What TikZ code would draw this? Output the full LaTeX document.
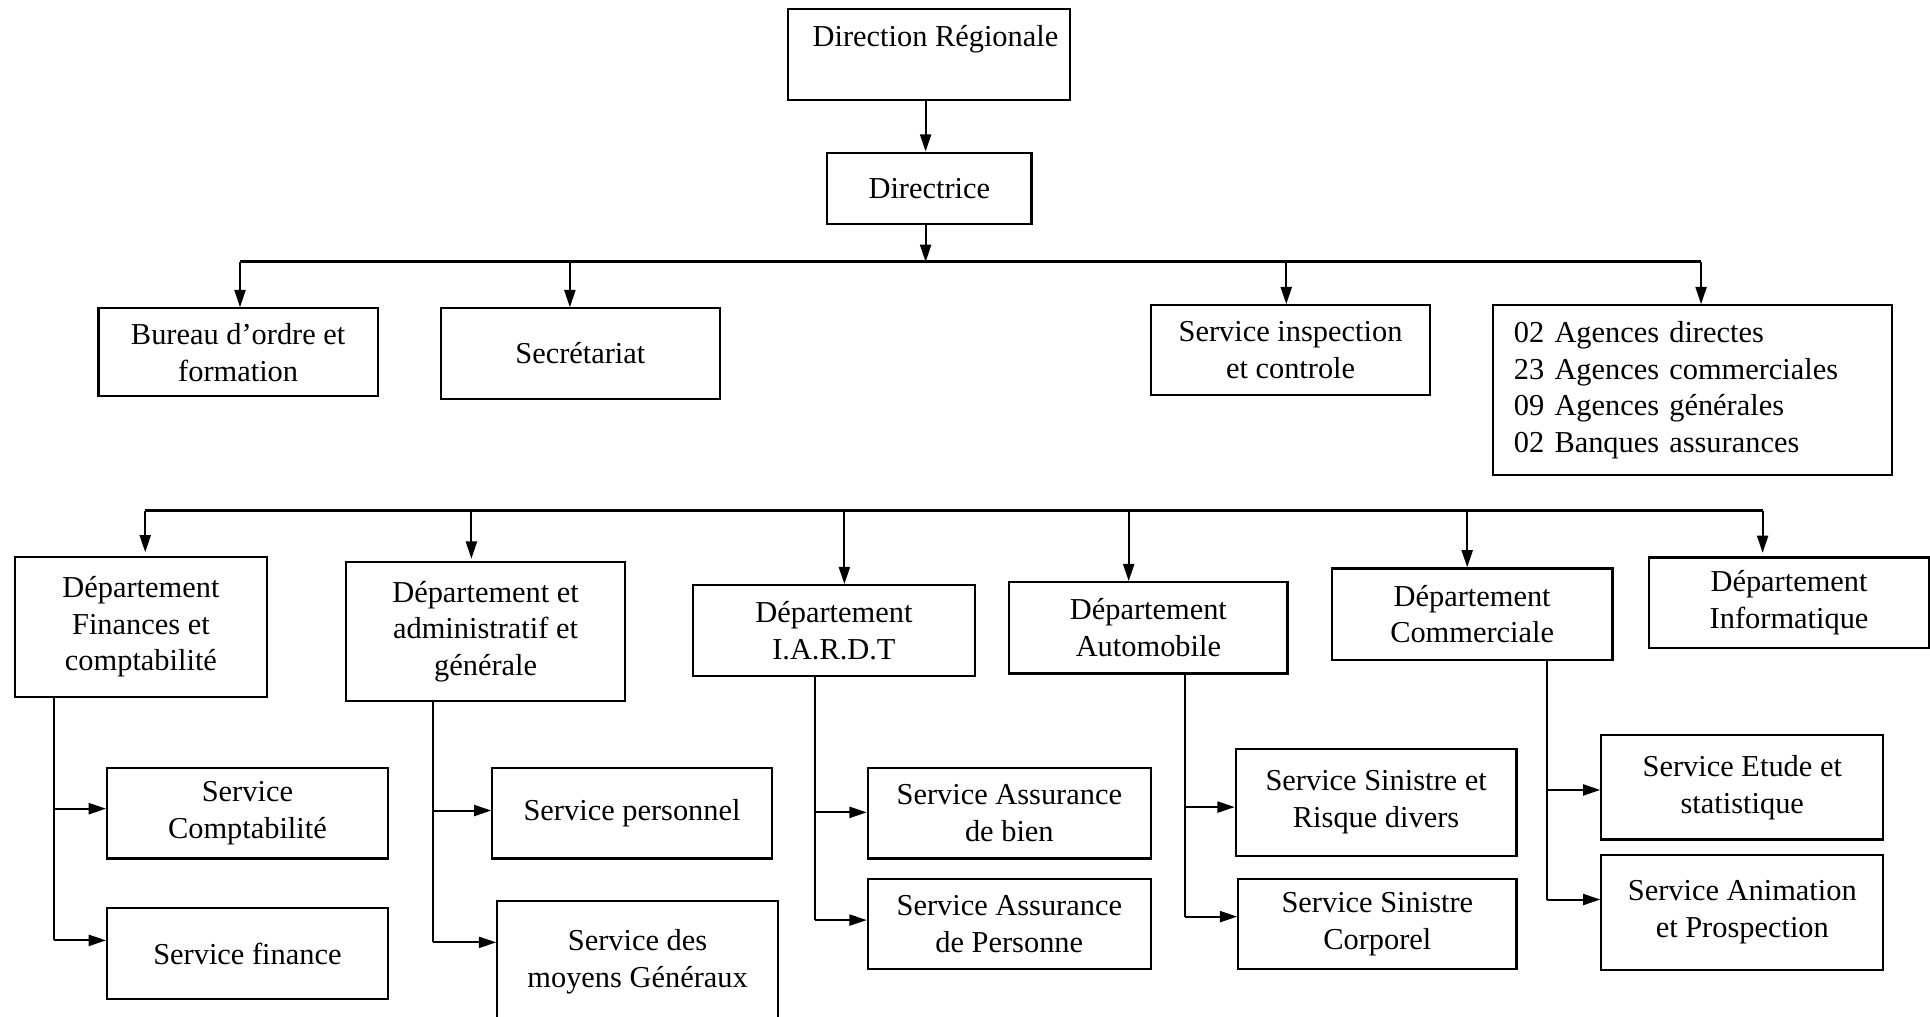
\documentclass[tikz,border=0pt]{standalone}
\usepackage{fontspec}
\setmainfont{Liberation Serif}
\usetikzlibrary{arrows.meta}
\begin{document}
\begin{tikzpicture}[x=1pt,y=-1pt,
  txt/.style={inner sep=0pt, align=center, font=\fontsize{24.7}{29.8}\selectfont},
  box/.style={txt, draw, line width=1.8pt},
  sz/.style 2 args={minimum width=#1pt, minimum height=#2pt},
  ln/.style={line width=1.6pt},
  arr/.style={line width=1.6pt, -{Triangle[length=14pt,width=9pt]}},
  bus/.style={line width=2.4pt}]
\useasboundingbox (0,0) rectangle (1568,826);
\clip (0,0) rectangle (1568,826);

% top levels
\node[box,sz={229}{73.5}] (dr) at (754.5,44.25) {};
\node[txt] (drt) at (760,32) {Direction Régionale};
\node[box,sz={166}{58}] (dir) at (755,153) {Directrice};

\node[box,sz={227}{71.5}] (bur) at (193.5,286.25) {Bureau d’ordre et\\formation};
\node[box,sz={227}{73.5}] (sec) at (471.5,287.25) {Secrétariat};
\node[box,sz={227}{72.6}] (insp) at (1048.5,284.3) {Service inspection\\et controle};
\node[box,minimum height=138pt,text width=290pt,inner xsep=17pt,align=left] (ag) at (1375,317)
  {02 Agences directes\\23 Agences commerciales\\09 Agences générales\\02 Banques assurances};

% departments
\node[box,sz={205}{113.4}] (dfin) at (114.5,509.3) {Département\\Finances et\\comptabilité};
\node[box,sz={227}{112.6}] (dadm) at (394.5,513.1) {Département et\\administratif et\\générale};
\node[box,sz={229}{73.6}] (diard) at (677.5,512.2) {Département\\I.A.R.D.T};
\node[box,sz={226}{74.2}] (dauto) at (933,510.1) {Département\\Automobile};
\node[box,sz={228}{74.2}] (dcom) at (1196,498.9) {Département\\Commerciale};
\node[box,sz={227}{73.3}] (dinf) at (1453.5,489.65) {Département\\Informatique};

% services
\node[box,sz={228}{73.7}] (scpt) at (201,660.55) {Service\\Comptabilité};
\node[box,sz={228}{73.7}] (sfin) at (201,774.65) {Service finance};
\node[box,sz={227}{73.7}] (sper) at (513.5,660.55) {Service personnel};
\node[box,sz={228}{97.8}] (smoy) at (518,781.1) {Service des\\moyens Généraux};
\node[box,sz={230}{73.7}] (sab) at (820,660.55) {Service Assurance\\de bien};
\node[box,sz={230}{73.3}] (sap) at (820,750.65) {Service Assurance\\de Personne};
\node[box,sz={228}{87.1}] (ssr) at (1118,651.95) {Service Sinistre et\\Risque divers};
\node[box,sz={226}{73.3}] (ssc) at (1119,750.65) {Service Sinistre\\Corporel};
\node[box,sz={229}{84.8}] (set) at (1415.5,639.7) {Service Etude et\\statistique};
\node[box,sz={229}{93.2}] (san) at (1415.5,741.2) {Service Animation\\et Prospection};

% top connectors
\coordinate (t1) at (752,0);
\draw[arr] (dr.south -| t1) -- (dir.north -| t1);
\coordinate (b1m) at (752,212.8);
\coordinate (b1l) at (195,212.8);
\coordinate (b1s) at (463,212.8);
\coordinate (b1i) at (1045,212.8);
\coordinate (b1r) at (1382,212.8);
\draw[bus] (b1l) -- (b1r);
\draw[arr] (dir.south -| b1m) -- (b1m);
\draw[arr] (b1l) -- (b1l |- bur.north);
\draw[arr] (b1s) -- (b1s |- sec.north);
\draw[arr] (b1i) -- (b1i |- insp.north);
\draw[arr] (b1r) -- (b1r |- ag.north);

% second bus
\coordinate (b2a) at (118,415);
\coordinate (b2b) at (383,415);
\coordinate (b2c) at (686,415);
\coordinate (b2d) at (917,415);
\coordinate (b2e) at (1192,415);
\coordinate (b2f) at (1432,415);
\draw[bus] (b2a) -- (b2f);
\draw[arr,shorten >=3pt] (b2a) -- (b2a |- dfin.north);
\draw[arr,shorten >=2pt] (b2b) -- (b2b |- dadm.north);
\draw[arr] (b2c) -- (b2c |- diard.north);
\draw[arr] (b2d) -- (b2d |- dauto.north);
\draw[arr] (b2e) -- (b2e |- dcom.north);
\draw[arr,shorten >=3pt] (b2f) -- (b2f |- dinf.north);

% spines and branches
\coordinate (f1) at (44,657);   \coordinate (f2) at (44,764);
\draw[ln] (dfin.south -| f1) -- (f2);
\draw[arr] (f1) -- (f1 -| scpt.west);
\draw[arr] (f2) -- (f2 -| sfin.west);

\coordinate (a1) at (352,658.5); \coordinate (a2) at (352,765.6);
\draw[ln] (dadm.south -| a1) -- (a2);
\draw[arr] (a1) -- (a1 -| sper.west);
\draw[arr] (a2) -- (a2 -| smoy.west);

\coordinate (i1) at (662,660);   \coordinate (i2) at (662,747.5);
\draw[ln] (diard.south -| i1) -- (i2);
\draw[arr] (i1) -- (i1 -| sab.west);
\draw[arr] (i2) -- (i2 -| sap.west);

\coordinate (u1) at (963,655.7); \coordinate (u2) at (963,744.7);
\draw[ln] (dauto.south -| u1) -- (u2);
\draw[arr] (u1) -- (u1 -| ssr.west);
\draw[arr] (u2) -- (u2 -| ssc.west);

\coordinate (c1) at (1257,641.8); \coordinate (c2) at (1257,730.8);
\draw[ln] (dcom.south -| c1) -- (c2);
\draw[arr] (c1) -- (c1 -| set.west);
\draw[arr] (c2) -- (c2 -| san.west);
\end{tikzpicture}
\end{document}
